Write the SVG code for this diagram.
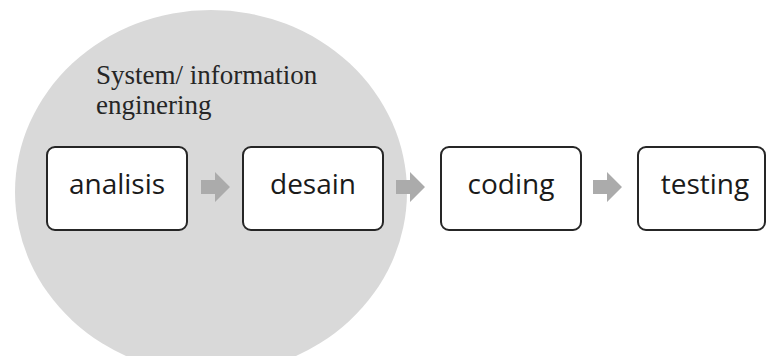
<svg xmlns="http://www.w3.org/2000/svg" width="767" height="356" viewBox="0 0 767 356">
<style>
.box{fill:#fff;stroke:#262626;stroke-width:2}
.lbl{font-family:"Open Sans","Liberation Sans",sans-serif;font-size:28px;fill:#1a1a1a;text-anchor:middle}
.arr{fill:#ababab}
.title{font-family:"Liberation Serif",serif;font-size:27px;fill:#262626}
</style>
<rect width="767" height="356" fill="#fff"/>
<g id="group-system">
<ellipse cx="211" cy="192" rx="196" ry="182" fill="#d9d9d9"/>
<text class="title" x="96" y="84">System/ information</text>
<text class="title" x="96" y="114">enginering</text>
</g>
<g id="connectors">
<path class="arr" d="M201,180 H215 V172 L230,187 L215,202 V194 H201 Z"/>
<path class="arr" d="M396,180 H410 V172 L425,187 L410,202 V194 H396 Z"/>
<path class="arr" d="M593,180 H607 V172 L622,187 L607,202 V194 H593 Z"/>
</g>
<g id="analisis">
<rect class="box" x="47" y="147" width="140" height="83" rx="8"/>
<text class="lbl" x="117" y="194">analisis</text>
</g>
<g id="desain">
<rect class="box" x="243" y="147" width="140" height="83" rx="8"/>
<text class="lbl" x="313" y="194">desain</text>
</g>
<g id="coding">
<rect class="box" x="441" y="147" width="140" height="83" rx="8"/>
<text class="lbl" x="511" y="194">coding</text>
</g>
<g id="testing">
<rect class="box" x="638" y="147" width="127" height="83" rx="8"/>
<text class="lbl" x="705" y="194">testing</text>
</g>
</svg>
